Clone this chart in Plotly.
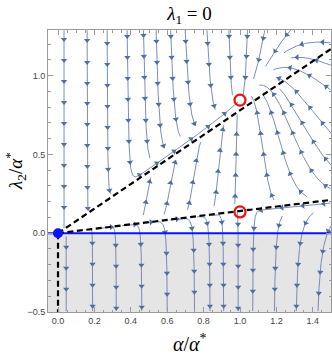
import numpy as np
import plotly.graph_objects as go

# ---------------- data ----------------
x_range = [-0.055, 1.5]
y_range = [-0.5, 1.29]
x_tick_vals = [0.0, 0.2, 0.4, 0.6, 0.8, 1.0, 1.2, 1.4]
y_tick_vals = [-0.5, 0.0, 0.5, 1.0]
x_minor_vals = [round(-0.05 + 0.05 * i, 2) for i in range(32)]
y_minor_vals = [round(-0.5 + 0.1 * i, 2) for i in range(18)]

fixed_alpha = [1.0, 1.0]            # red circles
fixed_lambda2 = [0.845, 0.135]
origin_alpha = [0.0]                 # blue dot
origin_lambda2 = [0.0]
dashed_slopes = [0.78, 0.141]        # black dashed rays from the origin

# vector-field coefficients (flow of alpha and lambda2)
flow_lambda_strength = 19.0
flow_alpha_strength = 1.0
flow_alpha_power = 3.0
flow_alpha_growth = 1.35

# streamline seeds
seed_top_alpha = [0.033, 0.16, 0.27, 0.38, 0.47, 0.54, 0.62, 0.70, 0.82, 0.94, 1.04, 1.13, 1.25]
seed_top_lambda2 = 1.25
seed_bottom_alpha = [0.045, 0.19, 0.32, 0.46, 0.60, 0.75, 0.835, 0.91, 0.99, 1.07, 1.19, 1.31, 1.43]
seed_bottom_lambda2 = -0.45

# ---------------- geometry ----------------
FIG_W, FIG_H = 332, 357
ML, MR, MT, MB = 48, 1, 30, 45
W, H = FIG_W - ML - MR, FIG_H - MT - MB
sx = W / (x_range[1] - x_range[0])
sy = H / (y_range[1] - y_range[0])

r_hi = fixed_lambda2[0] / fixed_alpha[0]
r_lo = fixed_lambda2[1] / fixed_alpha[1]


def to_data(p):
    return x_range[0] + p[0] / sx, y_range[0] + p[1] / sy


def to_px(a, l):
    return np.array([(a - x_range[0]) * sx, (l - y_range[0]) * sy])


def velocity_px(p):
    a, l = to_data(p)
    va = (flow_alpha_strength * np.sign(a) * abs(a) ** flow_alpha_power * (fixed_alpha[0] - a)
          * np.exp(flow_alpha_growth * l))
    vl = -flow_lambda_strength * (l - r_lo * a) * (l - r_hi * a)
    return np.array([va * sx, vl * sy])


def direction(p):
    v = velocity_px(p)
    n = np.hypot(v[0], v[1])
    if n < 1e-9:
        return None
    return v / n


DSEP = 19.0
DTEST = 0.42 * DSEP
CELL = DSEP
NX, NY = int(W / CELL) + 2, int(H / CELL) + 2
grid = [[[] for _ in range(NY)] for _ in range(NX)]
fixed_px = [to_px(a, l) for a, l in zip(fixed_alpha + origin_alpha, fixed_lambda2 + origin_lambda2)]


def inside(p):
    return 0 <= p[0] <= W and 0 <= p[1] <= H


def too_close(p, d):
    i, j = int(p[0] / CELL), int(p[1] / CELL)
    d2 = d * d
    for ii in range(i - 1, i + 2):
        if ii < 0 or ii >= NX:
            continue
        for jj in range(j - 1, j + 2):
            if jj < 0 or jj >= NY:
                continue
            for q in grid[ii][jj]:
                if (q[0] - p[0]) ** 2 + (q[1] - p[1]) ** 2 < d2:
                    return True
    return False


STEP = 1.0


def integrate(seed, sign):
    pts = []
    p = seed.copy()
    d_prev = None
    for _ in range(3000):
        d1 = direction(p)
        if d1 is None:
            break
        d1 = d1 * sign
        d2 = direction(p + 0.5 * STEP * d1)
        if d2 is None:
            break
        d2 = d2 * sign
        if d_prev is not None and np.dot(d2, d_prev) < 0.8:
            break
        q = p + STEP * d2
        if not inside(q) or too_close(q, DTEST):
            break
        if any(np.hypot(*(q - f)) < 2.0 for f in fixed_px):
            break
        pts.append(q)
        p = q
        d_prev = d2
    return pts


lines = []
queue = []


def add_line(seed, sep):
    if not inside(seed) or too_close(seed, sep):
        return
    back = integrate(seed, -1)
    fwd = integrate(seed, 1)
    line = back[::-1] + [seed] + fwd
    if len(line) < 14:
        return
    arr = np.array(line)
    lines.append(arr)
    for q in arr:
        grid[min(int(q[0] / CELL), NX - 1)][min(int(q[1] / CELL), NY - 1)].append(q)
    queue.append(arr)


def expand():
    while queue:
        arr = queue.pop(0)
        for k in range(2, len(arr) - 2, 3):
            t = arr[k + 1] - arr[k - 1]
            n = np.hypot(*t)
            if n == 0:
                continue
            nrm = np.array([-t[1], t[0]]) / n
            for s in (1, -1):
                add_line(arr[k] + s * DSEP * nrm, DSEP)


for a in seed_top_alpha:
    add_line(to_px(a, seed_top_lambda2), 0.6 * DSEP)
for a in seed_bottom_alpha:
    add_line(to_px(a, seed_bottom_lambda2), 0.6 * DSEP)
expand()
for gx in np.arange(DSEP / 2, W, DSEP / 2):
    for gy in np.arange(DSEP / 2, H, DSEP / 2):
        add_line(np.array([gx, gy]), DSEP)
        expand()

# ---------------- build traces ----------------
line_x, line_y = [], []
arr_x, arr_y, arr_ang = [], [], []
GAP = 21.0
for arr in lines:
    a, l = to_data(arr.T)
    line_x += list(a) + [None]
    line_y += list(l) + [None]
    seg = np.hypot(*np.diff(arr, axis=0).T)
    cum = np.concatenate([[0], np.cumsum(seg)])
    L = cum[-1]
    s = (L % GAP) / 2 + 4
    while s < L - 2:
        k = int(np.searchsorted(cum, s))
        k = min(max(k, 1), len(arr) - 1)
        t = arr[k] - arr[k - 1]
        pa, pl = to_data(arr[k])
        arr_x.append(pa)
        arr_y.append(pl)
        arr_ang.append(float(np.degrees(np.arctan2(t[0], t[1]))))
        s += GAP

fig = go.Figure()
fig.add_shape(type="rect", xref="x", yref="y", x0=x_range[0], x1=x_range[1], y0=y_range[0], y1=0,
              fillcolor="#E5E5E5", line=dict(width=0), layer="below")

fig.add_trace(go.Scatter(x=line_x, y=line_y, mode="lines",
                         line=dict(color="rgba(95,125,178,0.85)", width=1), hoverinfo="skip"))
fig.add_trace(go.Scatter(x=arr_x, y=arr_y, mode="markers",
                         marker=dict(symbol="triangle-up", size=5.5, angle=arr_ang,
                                     color="#4F6EA3", line=dict(width=0)), hoverinfo="skip"))

# blue line lambda2 = 0
fig.add_trace(go.Scatter(x=[x_range[0], x_range[1]], y=[origin_lambda2[0], origin_lambda2[0]],
                         mode="lines", line=dict(color="#0A14F5", width=2.2), hoverinfo="skip"))
# dashed rays
for m in dashed_slopes:
    xe = min(x_range[1], y_range[1] / m)
    fig.add_trace(go.Scatter(x=[origin_alpha[0], xe], y=[origin_lambda2[0], m * xe], mode="lines",
                             line=dict(color="black", width=2.2, dash="6px,3.5px"), hoverinfo="skip"))
# dashed vertical at alpha = 0 in the shaded region
fig.add_trace(go.Scatter(x=[origin_alpha[0], origin_alpha[0]], y=[origin_lambda2[0], y_range[0]], mode="lines",
                         line=dict(color="black", width=2.2, dash="6px,3.5px"), hoverinfo="skip"))
# fixed points
fig.add_trace(go.Scatter(x=fixed_alpha, y=fixed_lambda2, mode="markers",
                         marker=dict(symbol="circle-open", size=11, color="#F01010", line=dict(width=2.2)),
                         hoverinfo="skip"))
fig.add_trace(go.Scatter(x=origin_alpha, y=origin_lambda2, mode="markers",
                         marker=dict(symbol="circle", size=10, color="#0A14F5"), hoverinfo="skip"))

axis_common = dict(showgrid=False, zeroline=False, showline=True, linecolor="#9A9A9A", linewidth=1,
                   mirror="allticks", ticks="inside", ticklen=5, tickwidth=1, tickcolor="#9A9A9A",
                   automargin=False,
                   tickfont=dict(family="Liberation Sans", size=9, color="#444444"))
fig.update_xaxes(range=x_range, tickvals=x_tick_vals, ticktext=[f"{v:.1f}" for v in x_tick_vals],
                 minor=dict(tickvals=x_minor_vals, ticks="inside", ticklen=2.5, tickcolor="#9A9A9A"),
                 **axis_common)
fig.update_yaxes(range=y_range, tickvals=y_tick_vals, ticktext=[f"{v:.1f}".replace("-", "\u2212") for v in y_tick_vals],
                 minor=dict(tickvals=y_minor_vals, ticks="inside", ticklen=2.5, tickcolor="#9A9A9A"),
                 **axis_common)

fig.update_layout(
    template="none",
    width=FIG_W, height=FIG_H, autosize=False,
    margin=dict(l=ML, r=MR, t=MT, b=MB, pad=0),
    plot_bgcolor="white", paper_bgcolor="white", showlegend=False,
    title=dict(text="<i>λ</i><sub>1</sub> = 0", x=0.5, xref="paper", xanchor="center",
               y=1 - 13 / FIG_H, yref="container", yanchor="middle",
               font=dict(family="Liberation Serif", size=19, color="black")),
    annotations=[
        dict(text="<i>α</i>/<i>α</i><sup>*</sup>", xref="paper", yref="paper", x=0.5, y=0,
             yshift=-31, xanchor="center", yanchor="middle", showarrow=False,
             font=dict(family="Liberation Serif", size=20, color="black")),
        dict(text="<i>λ</i><sub>2</sub>/<i>α</i><sup>*</sup>", xref="paper", yref="paper", x=0, y=0.5,
             xshift=-33, xanchor="center", yanchor="middle", textangle=-90, showarrow=False,
             font=dict(family="Liberation Serif", size=19, color="black")),
    ],
)

fig.write_html("out.html", config={"displayModeBar": False, "staticPlot": True},
               post_script="document.body.style.margin='0';")
